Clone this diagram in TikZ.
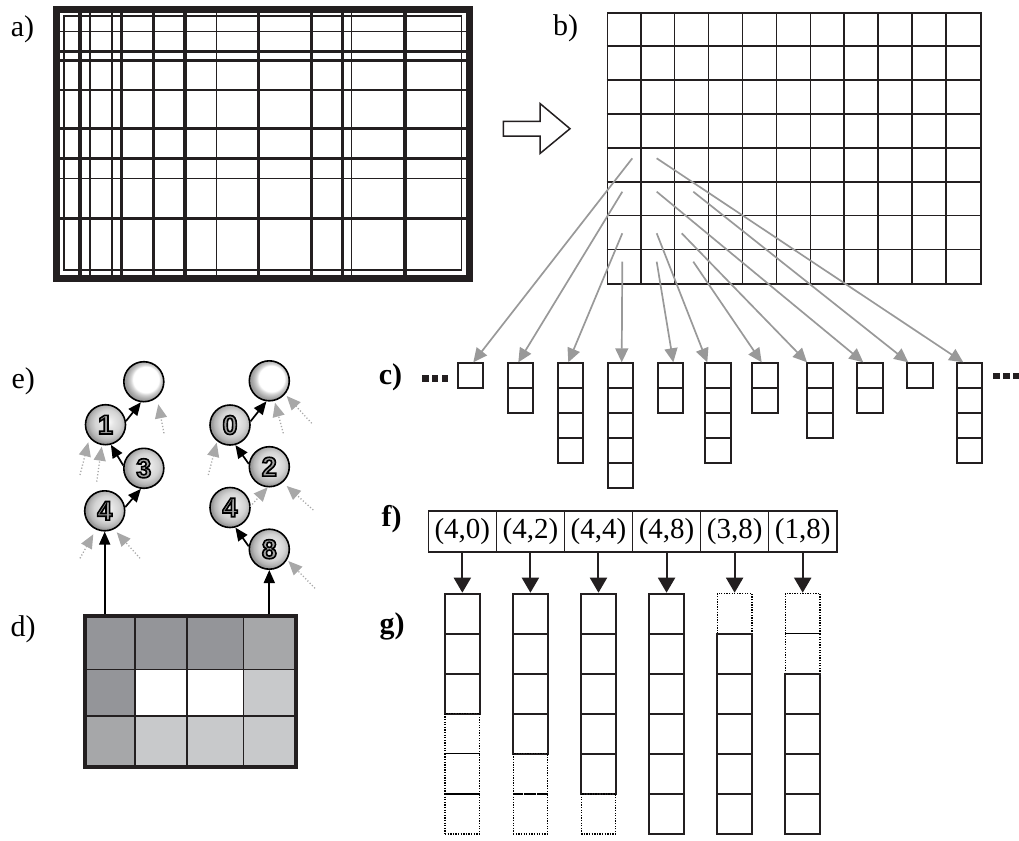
\documentclass[tikz,border=0pt]{standalone}
\usepackage{fontspec}
\setmainfont{Liberation Serif}
\newfontface\digout[FakeBold=6]{Liberation Sans Bold}
\usetikzlibrary{arrows.meta,calc}
\definecolor{dgray}{HTML}{949599}
\definecolor{mgray}{HTML}{A6A7A9}
\definecolor{lgray}{HTML}{C8C9CB}
\definecolor{agray}{HTML}{999999}
\definecolor{egray}{HTML}{A8A8A8}
\definecolor{digc}{HTML}{A2A2A2}
\definecolor{ink}{HTML}{231F20}
\pgfdeclareradialshading{numball}{\pgfpoint{4bp}{4bp}}{color(0bp)=(gray!4); color(7bp)=(gray!20); color(16bp)=(gray!34); color(22bp)=(gray!58); color(25bp)=(gray!80); color(50bp)=(gray!80)}
\pgfdeclareradialshading{topball}{\pgfpoint{4bp}{4bp}}{color(0bp)=(white); color(16bp)=(white); color(19bp)=(gray!35); color(22.5bp)=(gray!62); color(25bp)=(gray!78); color(50bp)=(gray!78)}
\newcommand\odigit[1]{{\fontsize{27}{27}\digout\color{digc}\special{pdf:literal direct 0 G}#1}}
\begin{document}
\begin{tikzpicture}[x=1pt,y=-1pt,
 lbl/.style={font=\fontsize{30}{30}\selectfont, inner sep=0pt},
 lblb/.style={inner sep=0pt, font=\fontsize{30}{30}\selectfont\bfseries},
 thk/.style={line width=3.3pt, ink},
 med/.style={line width=2.2pt, ink},
 thn/.style={line width=1.5pt, ink},
 cbox/.style={draw=ink, line width=2pt, minimum width=25.5pt, minimum height=25pt, inner sep=0pt, anchor=north west},
 gbox/.style={draw=ink, line width=2pt, minimum width=34.5pt, minimum height=40.1pt, inner sep=0pt, anchor=north},
 gdot/.style={draw=black, line width=1.3pt, dash pattern=on 1.3pt off 1.3pt, minimum width=34.5pt, minimum height=40.1pt, inner sep=0pt, anchor=north},
 fcell/.style={draw=ink, line width=1.6pt, minimum width=68.07pt, minimum height=40.7pt, inner sep=0pt, font=\fontsize{29}{29}\selectfont},
 garr/.style={draw=agray, line width=1.7pt, -{Triangle[length=14pt,width=13pt]}},
 karr/.style={draw=ink, line width=2pt, -{Triangle[length=15pt,width=17pt]}},
 barr/.style={draw=black, line width=1.7pt, -{Triangle[length=13pt,width=11pt]}},
 darr/.style={draw=egray, line width=1.3pt, dash pattern=on 1.2pt off 2pt, -{Triangle[length=14pt,width=12pt]}},
 ball/.style={circle, draw=black, line width=1.6pt, minimum size=40pt, inner sep=0pt, shade, shading=numball},
 tball/.style={circle, draw=black, line width=1.6pt, minimum size=40pt, inner sep=0pt, shade, shading=topball},
]
\useasboundingbox (0,0) rectangle (1019,840);
% labels
\node[lbl] (la) at (22.5,29) {a)};
\node[lbl] (lb) at (565.7,28) {b)};
\node[lblb] (lc) at (390.5,377) {c)};
\node[lbl] (ld) at (23,629) {d)};
\node[lbl] (le) at (23.3,381) {e)};
\node[lblb] (lf) at (391.5,519) {f)};
\node[lblb] (lg) at (392,626) {g)};
% panel a
\foreach \x in {80,121.7,153.3,185,258.3,311.7,342.5,405} \draw[thk] (\x,12) -- (\x,275);
\foreach \x in {90,216.7,351.7} \draw[thn] (\x,12) -- (\x,275);
\draw[med] (111.7,12) -- (111.7,275);
\foreach \y in {51.7,60.7,128.3,158.3,218.3} \draw[thk] (58,\y) -- (467,\y);
\foreach \y in {31.7,90,178.3} \draw[thn] (58,\y) -- (467,\y);
\draw[thn] (64,16) rectangle (461.7,270);
\draw[line width=7pt, ink] (56.7,9.8) rectangle (469.3,278.3);
% hollow arrow
\draw[line width=1.5pt, ink, fill=white, line join=miter] (503.3,121.5) -- (540,121.5) -- (540,103.5) -- (570,128.7) -- (540,153.5) -- (540,136) -- (503.3,136) -- cycle;
% panel b
\node[draw=ink, line width=1.7pt, minimum width=373.3pt, minimum height=271pt, inner sep=0pt, anchor=north west] (gridb) at (606.7,12.3) {};
\foreach \i in {1,...,10} \draw[ink, line width=1.7pt] (606.7+\i*33.94,12.3) -- ++(0,271);
\foreach \j in {1,...,7} \draw[ink, line width=1.7pt] (606.7,12.3+\j*33.875) -- ++(373.3,0);
% panel c
\foreach \n/\x/\c in {1/456.7/1, 2/506.7/2, 3/556.7/4, 4/606.7/5, 5/656.7/2, 6/704/4, 7/751/2, 8/806/3, 9/856/2, 10/906/1, 11/955.7/4}{
  \foreach \k in {1,...,\c} \node[cbox] (c\n-\k) at (\x,362.3+25*\k-25) {};
}
\foreach \n/\sx/\sy/\o in {1/632.3/158.3/16.6, 2/622.3/191.7/11.6, 3/622.3/233.3/11.6, 4/622.3/261.7/15, 5/656.7/261.7/16.6, 6/656.7/233.3/3.3, 7/693.3/261.7/10.7, 8/681.7/233.3/1, 9/656.7/191.7/7.3, 10/693.3/191.7/2.3, 11/656.7/158.3/7.6}{
  \coordinate (s\n) at (\sx,\sy);
  \draw[garr] (s\n) -- ([xshift=\o pt]c\n-1.north west);
}
\foreach \x in {421.7,431.6,441.5} \fill[ink] (\x,375) rectangle ++(6.8,6.6);
\foreach \x in {993.3,1003.2,1013.1} \fill[ink] (\x,372.7) rectangle ++(6.8,6.6);
% panel d
\foreach \xa/\xb/\ya/\yb/\cl in {85/135/615/669.3/dgray, 135/186.7/615/669.3/dgray, 186.7/243.3/615/669.3/dgray, 243.3/296.7/615/669.3/mgray,
  85/135/669.3/716/dgray, 135/186.7/669.3/716/white, 186.7/243.3/669.3/716/white, 243.3/296.7/669.3/716/lgray,
  85/135/716/768.3/mgray, 135/186.7/716/768.3/lgray, 186.7/243.3/716/768.3/lgray, 243.3/296.7/716/768.3/lgray}
  \fill[\cl] (\xa,\ya) rectangle (\xb,\yb);
\foreach \x in {135,186.7,243.3} \draw[ink, line width=1.6pt] (\x,615) -- (\x,768.3);
\foreach \y in {669.3,716} \draw[ink, line width=1.6pt] (85,\y) -- (296.7,\y);
\node[draw=ink, line width=4pt, minimum width=210.4pt, minimum height=151pt, inner sep=0pt] (dframe) at (190.5,691.8) {};
% panel e
\node[tball] (tl) at (143.8,381.7) {};
\node[ball] (b1) at (105.5,424.7) {\odigit{1}};
\node[ball] (b3) at (143.8,468.3) {\odigit{3}};
\node[ball] (b4) at (104.7,510.8) {\odigit{4}};
\node[tball] (tr) at (269.3,380.8) {};
\node[ball] (r0) at (230,425) {\odigit{0}};
\node[ball] (r2) at (269.3,466.7) {\odigit{2}};
\node[ball] (r4) at (230,507.5) {\odigit{4}};
\node[ball] (r8) at (269.3,549.2) {\odigit{8}};
\draw[barr] (b4.10) -- (b3.262);
\draw[barr] (b3.172) -- (b1.285);
\draw[barr] (b1.10) -- (tl.262);
\draw[barr] (r8.172) -- (r4.285);
\draw[barr] (r2.172) -- (r0.285);
\draw[barr] (r0.10) -- (tr.262);
\draw[barr] (b4 |- dframe.north) -- (b4.south);
\draw[barr] (r8 |- dframe.north) -- (r8.south);
\foreach \n/\ax/\ay/\bx/\by in {1/164/433.3/158.3/404.3, 2/80/475/88.3/442.3, 3/96.7/481.7/101.7/446.7, 4/80/558.3/93.3/534.3, 5/140/558.3/116.7/532.3,
  6/283.3/433.3/275/402.7, 7/311.7/423.3/286.7/396, 8/208.3/475/216.7/442.7, 9/250/506.7/267.7/487.3, 10/313.3/510/286.7/486, 11/315/588.3/288.3/561}{
  \coordinate (ea\n) at (\ax,\ay);
  \coordinate (eb\n) at (\bx,\by);
  \draw[darr] (ea\n) -- (eb\n);
}
% panel f
\foreach \i/\t in {1/{(4,0)}, 2/{(4,2)}, 3/{(4,4)}, 4/{(4,8)}, 5/{(3,8)}, 6/{(1,8)}}
  \node[fcell] (f\i) at (428.3+68.07*\i-34.03,531.4) {\t};
% panel g
\foreach \i/\dt/\ns in {1/0/3, 2/0/4, 3/0/5, 4/0/6, 5/1/5, 6/2/4}{
  \foreach \k in {1,...,6}{
    \pgfmathtruncatemacro\isS{and(\k>\dt,\k<=\dt+\ns)}
    \ifnum\isS=1
      \node[gbox] (g\i-\k) at (428.3+68.07*\i-34.03,592.7+40.1*\k-40.1) {};
    \else
      \node[gdot] (g\i-\k) at (428.3+68.07*\i-34.03,592.7+40.1*\k-40.1) {};
    \fi
  }
  \draw[karr] (f\i.south) -- (g\i-1.north);
}
\end{tikzpicture}
\end{document}
